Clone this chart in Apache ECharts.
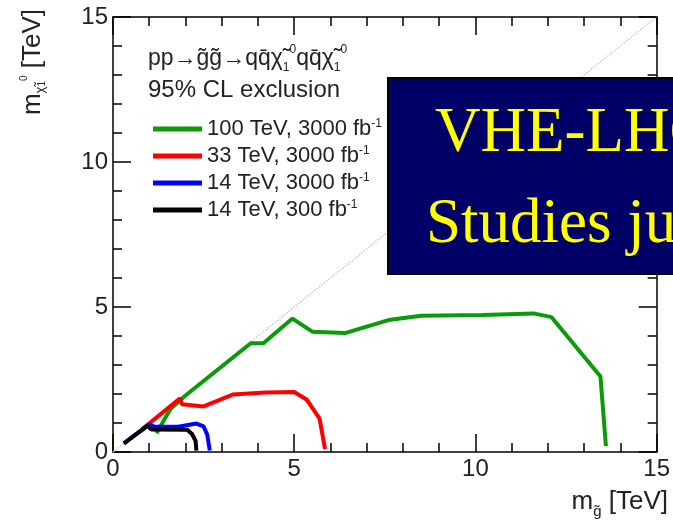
<!DOCTYPE html>
<html>
<head>
<meta charset="utf-8">
<script src="https://cdn.jsdelivr.net/npm/echarts@6/dist/echarts.min.js"></script>
<style>
  html, body { margin: 0; padding: 0; background: #fff; }
  #chart { width: 673px; height: 521px; }
</style>
</head>
<body>
<div id="chart"></div>
<script>
// Exclusion contours in the (gluino mass, neutralino mass) plane, in TeV.
const seriesNames = [
  '100 TeV, 3000 fb-1',
  '33 TeV, 3000 fb-1',
  '14 TeV, 3000 fb-1',
  '14 TeV, 300 fb-1'
];
const seriesColors = ['#0a9a0a', '#ff0000', '#0000ff', '#000000'];

const contour100TeV = [
  [1.2, 0.65], [1.5, 1.3], [1.6, 1.5], [2.0, 1.95], [3.8, 3.75], [4.15, 3.75],
  [4.95, 4.6], [5.5, 4.15], [6.4, 4.1], [7.6, 4.55], [8.5, 4.7], [10.2, 4.72],
  [11.6, 4.78], [12.1, 4.65], [13.45, 2.6], [13.6, 0.2]
];
const contour33TeV = [
  [0.8, 0.78], [1.85, 1.85], [1.9, 1.65], [2.5, 1.57], [3.3, 1.98], [4.2, 2.05],
  [5.0, 2.07], [5.35, 1.8], [5.7, 1.15], [5.85, 0.1]
];
const contour14TeVHL = [
  [0.3, 0.3], [1.0, 0.95], [1.15, 0.87], [1.8, 0.87], [2.3, 0.98], [2.5, 0.88],
  [2.6, 0.6], [2.67, 0.05]
];
const contour14TeV = [
  [0.3, 0.3], [0.95, 0.9], [1.05, 0.78], [2.05, 0.77], [2.18, 0.62], [2.28, 0.38],
  [2.3, 0.05]
];
// m(neutralino) = m(gluino) reference line
const diagonal = [[0, 0], [15, 15]];

const axisMin = 0, axisMax = 15, majorStep = 5;

const chart = echarts.init(document.getElementById('chart'));
const FONT = 'Liberation Sans, Arial, sans-serif';
const SERIF = 'Liberation Serif, Times New Roman, serif';

function frameAxis(showLabels, pos) {
  return {
    type: 'value', min: axisMin, max: axisMax, interval: majorStep, position: pos,
    axisLine: { show: true, onZero: false, lineStyle: { color: '#000', width: 1.5 } },
    axisTick: { show: true, inside: true, length: 18, lineStyle: { color: '#000', width: 1.5 } },
    minorTick: { show: true, splitNumber: 5, length: 9, lineStyle: { color: '#000', width: 1.5 } },
    splitLine: { show: false },
    axisLabel: { show: showLabels, fontSize: 24, color: '#222', fontFamily: FONT, margin: 5 }
  };
}

const lines = [contour100TeV, contour33TeV, contour14TeVHL, contour14TeV].map((d, i) => ({
  name: seriesNames[i], type: 'line', data: d, symbol: 'none', silent: true,
  lineStyle: { color: seriesColors[i], width: 4 }, itemStyle: { color: seriesColors[i] },
  z: 3 + i, animation: false
}));

chart.setOption({
  animation: false,
  backgroundColor: '#fff',
  grid: { left: 113, right: 15, top: 17, bottom: 69 },
  xAxis: [frameAxis(true, 'bottom'), frameAxis(false, 'top')],
  yAxis: [frameAxis(true, 'left'), frameAxis(false, 'right')],
  legend: {
    data: seriesNames, orient: 'vertical', left: 148, top: 113,
    icon: 'rect', itemWidth: 49, itemHeight: 5, itemGap: 5,
    selectedMode: false,
    textStyle: {
      fontSize: 22, color: '#222', fontFamily: FONT, lineHeight: 22,
      rich: { sup: { fontSize: 12, fontFamily: FONT, color: '#222', verticalAlign: 'top', lineHeight: 22 } }
    },
    formatter: n => n.replace('fb-1', 'fb{sup|-1}')
  },
  series: [
    {
      type: 'line', data: diagonal, symbol: 'none', silent: true, z: 1,
      lineStyle: { color: '#c8c8c8', width: 1.5, type: 'dotted' }
    },
    ...lines
  ],
  graphic: [
    {
      type: 'text', x: 148, y: 44, z: 10,
      style: {
        text: 'pp→g̃g̃→qq̄χ̃{sb|1}{sp|0}qq̄χ̃{sb|1}{sp|0}',
        font: '23px ' + FONT, fill: '#222',
        rich: {
          sb: { fontSize: 12, verticalAlign: 'bottom', lineHeight: 30, fontFamily: FONT },
          sp: { fontSize: 12, verticalAlign: 'top', lineHeight: 30, fontFamily: FONT }
        }
      }
    },
    {
      type: 'text', x: 148, y: 78, z: 10,
      style: { text: '95% CL exclusion', font: '24px ' + FONT, fill: '#222' }
    },
    {
      type: 'text', x: 33, y: 62, rotation: Math.PI / 2, z: 10,
      style: {
        text: 'm{sb|χ̃}{sb1|1}{sp|0} [TeV]', font: '26px ' + FONT, fill: '#222',
        align: 'center', verticalAlign: 'middle',
        rich: {
          sb: { fontSize: 13, verticalAlign: 'bottom', lineHeight: 28, fontFamily: FONT },
          sb1: { fontSize: 10, verticalAlign: 'bottom', lineHeight: 28, fontFamily: FONT },
          sp: { fontSize: 10, verticalAlign: 'top', lineHeight: 28, fontFamily: FONT }
        }
      }
    },
    {
      type: 'text', x: 668, y: 502, z: 10,
      style: {
        text: 'm{sb|g̃} [TeV]', font: '26px ' + FONT, fill: '#222',
        align: 'right', verticalAlign: 'middle',
        rich: { sb: { fontSize: 15, verticalAlign: 'bottom', lineHeight: 34, fontFamily: FONT } }
      }
    },
    {
      type: 'rect', z: 20,
      shape: { x: 388, y: 78, width: 320, height: 196 },
      style: { fill: '#000066', stroke: '#000', lineWidth: 2 }
    },
    {
      type: 'text', x: 435, y: 103, z: 21,
      style: { text: 'VHE-LHC', font: '63px ' + SERIF, fill: '#ffff00', verticalAlign: 'top' }
    },
    {
      type: 'text', x: 426, y: 194, z: 21,
      style: { text: 'Studies just started', font: '63px ' + SERIF, fill: '#ffff00', verticalAlign: 'top' }
    }
  ]
});
</script>
</body>
</html>
